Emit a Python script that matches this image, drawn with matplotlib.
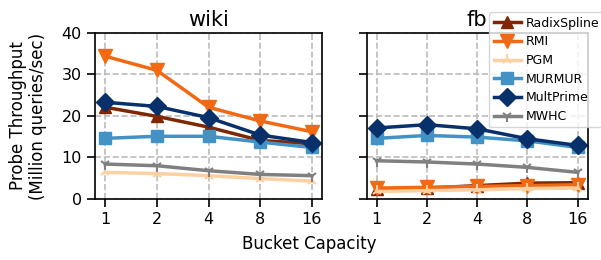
import matplotlib
matplotlib.use("Agg")
import matplotlib.pyplot as plt

capacities = ["1", "2", "4", "8", "16"]
methods = ["RadixSpline", "RMI", "PGM", "MURMUR", "MultPrime", "MWHC"]

wiki = {
    "RadixSpline": [22.1, 19.9, 17.3, 14.1, 13.3],
    "RMI": [34.4, 31.0, 22.1, 18.8, 16.2],
    "PGM": [6.4, 6.1, 5.6, 4.9, 4.3],
    "MURMUR": [14.6, 15.1, 15.1, 13.7, 12.4],
    "MultPrime": [23.3, 22.3, 19.6, 15.4, 13.6],
    "MWHC": [8.4, 8.0, 6.8, 5.9, 5.6],
}
fb = {
    "RadixSpline": [2.3, 2.6, 3.2, 3.8, 3.9],
    "RMI": [2.6, 2.8, 3.0, 3.2, 3.4],
    "PGM": [1.8, 2.0, 2.2, 2.5, 2.6],
    "MURMUR": [14.6, 15.3, 14.9, 14.0, 12.4],
    "MultPrime": [17.1, 17.9, 16.9, 14.5, 12.9],
    "MWHC": [9.2, 8.9, 8.4, 7.6, 6.4],
}

colors = {
    "RadixSpline": "#7f2704",
    "RMI": "#f16913",
    "PGM": "#fdd0a2",
    "MURMUR": "#4292c6",
    "MultPrime": "#08306b",
    "MWHC": "#808080",
}
markers = {
    "RadixSpline": "^",
    "RMI": "v",
    "PGM": "2",
    "MURMUR": "s",
    "MultPrime": "D",
    "MWHC": "1",
}
msizes = {"RadixSpline": 9, "RMI": 10, "PGM": 8, "MURMUR": 9, "MultPrime": 9, "MWHC": 8}

fig = plt.figure(figsize=(6.01, 2.6), dpi=100)
ax1 = fig.add_axes([0.158, 0.235, 0.378, 0.638])
ax2 = fig.add_axes([0.610, 0.235, 0.368, 0.638])

x = list(range(len(capacities)))
for ax, data, title in [(ax1, wiki, "wiki"), (ax2, fb, "fb")]:
    for m in methods:
        ax.plot(x, data[m], color=colors[m], marker=markers[m], markersize=msizes[m],
                linewidth=2.5, markeredgewidth=1.5 if m in ("PGM", "MWHC") else 1.0,
                label=m)
    ax.set_xlim(-0.2, 4.2)
    ax.set_ylim(0, 40)
    ax.set_yticks([0, 10, 20, 30, 40])
    ax.set_xticks(x)
    ax.set_xticklabels(capacities, fontsize=11.5)
    ax.tick_params(axis="both", labelsize=11.5, length=6, width=1.2)
    ax.grid(True, linestyle="--", color="#bbbbbb", linewidth=1.2)
    ax.set_axisbelow(True)
    ax.set_title(title, fontsize=15, pad=5)
    for s in ax.spines.values():
        s.set_linewidth(1.2)

ax2.set_yticklabels([])
ax1.set_ylabel("Probe Throughput\n(Million queries/sec)", fontsize=12, labelpad=10)
fig.text(0.515, 0.06, "Bucket Capacity", ha="center", va="center", fontsize=12)

h, l = ax2.get_legend_handles_labels()
fig.legend(h, l, loc="upper left", bbox_to_anchor=(0.814, 0.952), fontsize=9,
           handlelength=2.2, borderaxespad=0.0, labelspacing=0.45,
           handletextpad=0.4, borderpad=0.35, framealpha=0.8)

fig.savefig("out.png", dpi=100)
